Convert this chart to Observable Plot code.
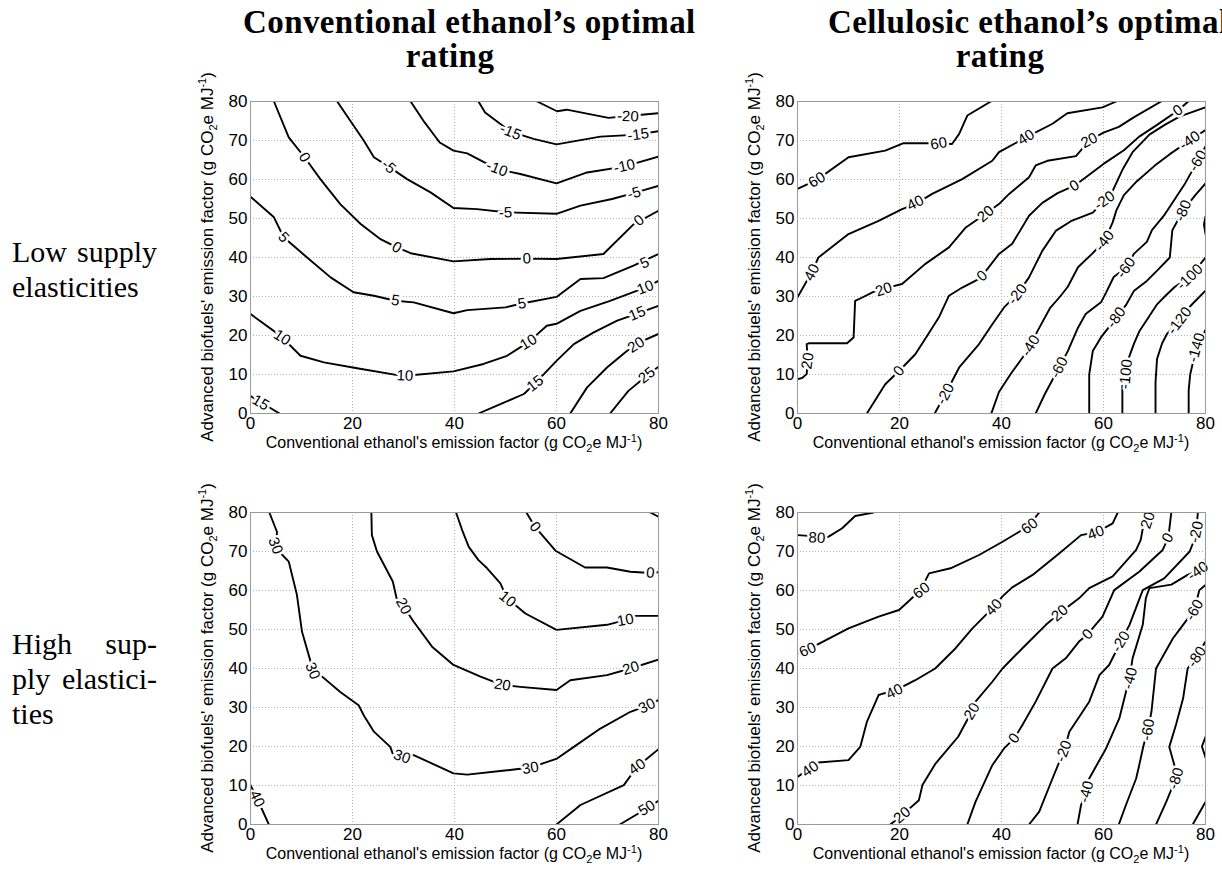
<!DOCTYPE html>
<html><head><meta charset="utf-8">
<script src="https://cdn.jsdelivr.net/npm/d3@7"></script>
<script src="https://cdn.jsdelivr.net/npm/@observablehq/plot@0.6"></script>
<style>
body{margin:0;background:#fff;}
#wrap{position:relative;width:1222px;height:874px;overflow:hidden;background:#fff;}
.abs{position:absolute;white-space:nowrap;}
.title{font-family:"Liberation Serif","Times New Roman",serif;font-weight:bold;font-size:33px;letter-spacing:0.4px;line-height:34px;color:#000;}
.row{font-family:"Liberation Serif","Times New Roman",serif;font-size:30px;line-height:35px;width:145px;text-align:justify;text-align-last:justify;color:#000;}
.axt{font-family:"Liberation Sans",Arial,sans-serif;font-size:16px;line-height:18px;color:#000;text-align:center;}
.axt sub,.axt sup{font-size:11px;line-height:0;}
</style></head><body><div id="wrap"></div>
<script>
// ---------- data ----------
const xTicks = [0, 20, 40, 60, 80];
const yTicks = [0, 10, 20, 30, 40, 50, 60, 70, 80];
const xGrid = [20, 40, 60];
const yGrid = [10, 20, 30, 40, 50, 60, 70];

const colTitles = ["Conventional ethanol\u2019s optimal", "Cellulosic ethanol\u2019s optimal"];
const rowTitles = [["Low supply", "elasticities"], ["High sup-", "ply elastici-", "ties"]];

// Low supply elasticities – conventional ethanol's optimal rating
const lowConvLines = [
  {level: -20, pts: [[56.2,80],[60.1,77.5],[62,77.9],[70.2,75.8],[74,76.3],[80,77]]},
  {level: -15, pts: [[44.7,80],[46,77.2],[47.7,75.5],[51,72.3],[55.5,70.4],[60,69],[68.6,71],[76,71.5],[80,72.4]]},
  {level: -10, pts: [[31.4,80],[34.1,74.7],[37.1,69.5],[39.8,67.4],[42.5,66.7],[45.4,64.7],[48.3,62.7],[52.9,61.4],[60,59],[66,61.8],[73.2,63.3],[80,65.9]]},
  {level: -5, pts: [[17,80],[22.2,70],[24.2,65.7],[27.1,63.3],[30.7,60.1],[35.3,56.7],[39.8,52.7],[44.4,52.4],[50,51.6],[60,51.2],[64.7,53.3],[70.9,55],[75.1,56.5],[80,58.4]]},
  {level: 0, pts: [[4.6,80],[7.5,70.8],[10.6,65.7],[13.7,60.1],[17.6,53.7],[21.6,48.6],[25.5,44.7],[28.7,42.6],[31.4,41.1],[39.8,39],[47,39.6],[54.2,39.7],[60,39.6],[69.2,40.9],[75.1,48.5],[80,52]]},
  {level: 5, pts: [[0,55.6],[4.6,50.3],[6.5,45.2],[11.1,40],[15.7,34.9],[20.2,31.1],[24.2,30.2],[28.4,28.9],[32,28.5],[39.8,25.7],[42.5,26.5],[50,27.2],[53.2,28.2],[60,29.9],[64.7,34.5],[69.2,34.7],[75.1,37.9],[80,40.9]]},
  {level: 10, pts: [[0,25.5],[5.9,19.9],[9.8,14.8],[14.4,13.1],[20.9,11.6],[29.4,9.7],[31.5,9.8],[39.8,10.8],[45.7,12.7],[50.3,14.8],[54.5,18.3],[58.1,22.5],[60,23],[64.7,26.3],[70.5,28.9],[77.4,32.3],[80,34]]},
  {level: 15, pts: [[44.7,0],[49,2.4],[53.6,5],[55.8,7.7],[60,13.5],[63.4,17.8],[67.3,20.8],[71.9,23.8],[75.8,25.6],[80,27.6]]},
  {level: 20, pts: [[62.7,0],[66,6.7],[69.9,11.8],[73.5,15.7],[75.8,18],[80,20.4]]},
  {level: 25, pts: [[70.5,0],[74.1,5.8],[77.7,9.7],[80,12]]},
  {level: 15, pts: [[0,4.5],[2.5,2.5],[5.7,0]]}
];
const lowConvLabels = [
  [-20,74,76.2],[-15,51,72.2],[-15,76,71.5],[-10,48.3,62.8],[-10,73.3,63.4],
  [-5,27.1,63.3],[-5,50,51.5],[-5,75.2,56.5],
  [0,10.6,65.7],[0,28.7,42.6],[0,54.2,39.7],[0,76.2,49.5],
  [5,6.5,45.2],[5,28.4,29],[5,53.2,28.2],[5,77.3,38.6],
  [10,6.2,19.5],[10,30.3,9.7],[10,54.5,18.3],[10,77.4,32.3],
  [15,2,2.8],[15,55.8,7.7],[15,75.8,25.6],[20,75.6,17.6],[25,77.7,9.8]
];

// Low supply elasticities – cellulosic ethanol's optimal rating
const lowCellLines = [
  {level: 60, pts: [[0,57.6],[3.8,59.9],[10,65.7],[17.2,67.4],[20.8,69.3],[26.4,69.3],[30.3,69.1],[31.7,71.7],[33.3,76.4],[37.9,80]]},
  {level: 40, pts: [[0,29.8],[2.8,36.2],[4.1,40],[10,46],[15.9,49.4],[20.5,52.4],[23.1,53.7],[26.4,56.3],[32.3,60.1],[38.2,64.8],[39.5,67],[44.8,70.8],[50,74.3],[52.9,77],[59.8,78.5],[62.5,80]]},
  {level: 20, pts: [[0,8.8],[0.9,9.1],[1.8,10.1],[2,13.5],[1.8,17.8],[2.2,18],[9.7,18],[11,19.5],[11.3,28.9],[12,29.3],[14.9,31.2],[16.9,32],[20.5,33.2],[25,38.3],[29.7,42.6],[33,47.7],[36.9,51.2],[39.5,53.7],[41.5,56.3],[45.4,60.6],[46.7,63.6],[49,64.8],[54.6,66],[57.2,70],[60,72],[63,73.5],[66,76],[71.3,80]]},
  {level: 0, pts: [[13.6,0],[17.2,7.5],[19.9,10.9],[23.1,15.2],[25.4,19.9],[27.7,24.6],[29.7,30.2],[32.3,32.3],[35.6,34.5],[36.2,35.3],[39.5,40.9],[42.1,43.5],[45.4,50.7],[48,54],[51,56.5],[54.3,58.4],[57,61],[60,64],[64,67.5],[67,71],[70.5,74],[74.6,77.7],[76.6,80]]},
  {level: -20, pts: [[26.9,0],[29,5],[31.7,11.8],[35.6,17.8],[38.2,22.9],[40.5,27.2],[43.1,30.6],[45.4,34.9],[48,41.7],[50.7,46.9],[53.6,49.3],[57.9,51.5],[60.2,54.6],[61.8,57.1],[63.8,62.7],[65.7,67],[69,71.5],[72,74],[75,76.2],[80,78.5]]},
  {level: -40, pts: [[38,0],[39.5,5.5],[42,10.5],[44.5,15],[45.7,17.4],[47,21],[49.5,27],[51.5,30],[53,32.5],[55,37.5],[57.8,41],[60.2,44.3],[61.8,49],[62.5,52],[64,56],[66.5,59.5],[70,63.5],[73,66.5],[76.9,70],[80,72.7]]},
  {level: -60, pts: [[46.7,0],[48.5,5],[51.3,11.8],[53,16],[55,22],[56.5,25.5],[59.5,28.5],[60.5,31],[62,35],[64.4,37.4],[66,41],[68.5,44],[69.5,47],[72,51],[74,55],[76,59],[78.5,64.8],[80,68.5]]},
  {level: -80, pts: [[57.2,0],[57.2,10],[57.9,16],[59.5,19.5],[62.5,24.6],[64.5,28],[66,31.5],[68.5,34],[70.8,37],[73,40],[73.5,47],[75.6,52],[78,56],[80,59]]},
  {level: -100, pts: [[63.7,0],[63.7,8],[64.4,10.1],[64.6,13],[66,18],[67,21],[69,25],[70.5,28],[72,30],[74,32.5],[76.9,35],[80,40]]},
  {level: -100, pts: [[80,50.5],[79.7,48.5],[80,46]]},
  {level: -120, pts: [[70.2,0],[70.2,8],[70.5,14],[71.5,18],[72.5,20.5],[74.9,23.8],[77,27.5],[80,31.5]]},
  {level: -140, pts: [[76.7,0],[76.7,6],[77,10],[78.2,16.9],[80,21.4]]}
];
const lowCellLabels = [
  [60,3.8,59.9],[60,27.7,69.2],
  [40,2.8,36.2],[40,23.1,54],[40,44.8,70.8],
  [20,2,13.5],[20,16.9,31.8],[20,36.9,51.2],[20,57.2,70],
  [0,19.9,10.9],[0,36.2,35.3],[0,54.3,58.4],[0,74.6,77.7],
  [-20,29,5],[-20,43.1,30.6],[-20,60.2,54.6],
  [-40,45.7,17.4],[-40,60.2,44.3],[-40,76.9,70],
  [-60,51.3,11.8],[-60,64.4,37.4],[-60,78.5,64.8],
  [-80,62.5,24.6],[-80,75.6,52],
  [-100,64.4,10.1],[-100,76.9,35],
  [-120,74.9,23.8],[-140,78.2,16.9]
];

// High supply elasticities – conventional ethanol's optimal rating
const highConvLines = [
  {level: 30, pts: [[3.7,80],[5.2,75],[5,71.6],[5.6,70],[7.5,67.4],[9.1,58.9],[10.1,49.4],[11.8,41.7],[12.4,39.6],[13.7,38.3],[17.6,34],[21.2,30.6],[22.2,28],[24.2,23.8],[27.4,19.9],[28,17.8],[29.7,17.4],[32,17.8],[39.8,13.1],[42.5,12.8],[50.3,13.9],[54.9,14.6],[60.1,16.9],[63.4,19.9],[68.6,24.6],[74.5,28.9],[77.7,30.4],[80,31.9]]},
  {level: 20, pts: [[23.7,80],[23.8,74.2],[24.8,70],[27.9,62.3],[28.8,57.1],[30,55.9],[32,52],[35.6,45.6],[39.8,40.9],[45.1,37.9],[49.3,35.8],[52.9,35.3],[60,34.5],[62.7,37],[69.9,38.3],[74.5,40],[80,42.3]]},
  {level: 10, pts: [[40.3,80],[41.5,75.5],[42.8,71.2],[44.7,67.8],[46.4,65.7],[49,61.8],[50.3,58],[53.9,54.1],[60,49.9],[69.9,51.2],[73.5,52.4],[75.1,53.5],[80,53.5]]},
  {level: 0, pts: [[54.1,80],[55.8,76.3],[59.8,70.2],[65.6,65.9],[69.9,65.9],[74.5,64.8],[78.4,64.5],[80,64.7]]},
  {level: -10, pts: [[78.4,80],[80,78.9]]},
  {level: 40, pts: [[60,0],[64.7,5],[73.2,10.1],[75.8,14.8],[80,19.3]]},
  {level: 50, pts: [[72.4,0],[77.7,4.1],[80,6.1]]},
  {level: 40, pts: [[0,10.1],[1,7.5],[3.6,0]]}
];
const highConvLabels = [
  [30,4.9,71.5],[30,12.2,39.4],[30,29.7,17.4],[30,54.9,14.5],[30,77.7,30.4],
  [20,30,56],[20,49.4,35.8],[20,74.6,40.1],
  [10,50.4,57.8],[10,73.5,52.4],
  [0,55.8,76.3],[0,78.4,64.5],
  [40,75.8,14.8],[40,1.3,6.6],[50,77.7,4.2]
];

// High supply elasticities – cellulosic ethanol's optimal rating
const highCellLines = [
  {level: 80, pts: [[0,74.2],[2.2,74],[3.8,73.5],[6.1,73.8],[8.7,75.9],[11.3,79.1],[14.9,80]]},
  {level: 60, pts: [[0,43.9],[1.8,44.7],[10,50.3],[15.9,53.3],[19.9,55],[22,57.5],[24.1,60.1],[25.8,64.4],[30,65.7],[35.6,69.1],[40.2,72.5],[43.4,75],[45.4,76.7],[47.4,80]]},
  {level: 40, pts: [[0,12.2],[2.5,14.4],[4.1,15.9],[10,16.5],[12.3,19.9],[13.6,26.3],[15.9,33.2],[16.9,33.6],[18.9,34.2],[23.1,37],[27,40],[31,45.2],[34.3,50.3],[38.2,55.4],[40.2,58.5],[42.1,60.8],[46.1,64],[51.3,69.5],[55.6,74.2],[57.2,74.6],[58.5,74.8],[61.8,77.2],[62.8,80]]},
  {level: 20, pts: [[18.2,0],[20.5,2.4],[23.8,6.2],[24.5,10.1],[27.1,15.7],[29,18.6],[31.5,22.5],[34.3,29.3],[34.9,31.5],[38.2,36.6],[40.2,40],[44.1,45.2],[48.7,51.2],[51.3,54.1],[55.2,58],[57.2,60.6],[61.8,63.6],[66.4,70.4],[67.3,73],[67.7,75.9],[68.7,78],[69.1,80]]},
  {level: 0, pts: [[33.3,0],[34.9,5.8],[38.2,15.2],[40.5,19.5],[42.5,22.1],[44.1,25.5],[46.7,31.5],[50,40],[52.6,42.6],[55.2,46.9],[56.9,48.8],[59.8,53.3],[62.1,60.1],[67,64.8],[71.6,70.4],[72.7,73.5],[73.3,80]]},
  {level: -20, pts: [[45.4,0],[47.4,3.3],[50,11.8],[51.6,16.9],[52.3,19],[53.3,23.8],[57.2,31.5],[59.2,38.3],[61.1,40.9],[63.4,46.9],[65.1,51.2],[67.7,60.1],[71.9,63.1],[76.9,70],[78.1,74],[78.5,80]]},
  {level: -40, pts: [[54.9,0],[55.6,5],[56.6,8.4],[57.2,11.8],[60.5,19.5],[63.1,27.2],[64.4,34],[65.1,37.5],[65.7,42.6],[67.7,51.2],[68.3,58],[69,60.6],[73.3,61.5],[76.5,64],[78.5,65],[80,67.8]]},
  {level: -60, pts: [[63,0],[64.4,5],[66.4,11.8],[67,15.2],[67.8,20],[68.7,24.2],[69.4,28.9],[70.3,40],[73.6,47.7],[75.6,51.2],[77.8,55],[78.8,60.1],[80,61.4]]},
  {level: -80, pts: [[70.3,0],[72.3,5.8],[74.2,11.8],[73.9,15.2],[72.9,19.9],[74.2,25.5],[75.6,32.3],[76.5,40],[78.2,43],[80,46.9]]},
  {level: -100, pts: [[77.5,0],[78.8,3],[80,5.8]]},
  {level: -100, pts: [[80,22.5],[79.3,20],[80,17.2]]}
];
const highCellLabels = [
  [80,3.8,73.5],
  [60,2,44.8],[60,24.3,60],[60,45.5,76.5],
  [40,2.5,14.2],[40,19,34.1],[40,38.5,55.7],[40,58.5,74.8],
  [20,20.5,2.4],[20,34.2,29],[20,51.4,54.2],[20,68.7,78],
  [0,42.5,22.1],[0,56.9,48.8],[0,72.6,73.5],
  [-20,52.2,18.8],[-20,63.4,46.9],[-20,78.2,75],
  [-40,56.6,8.4],[-40,65.2,37.5],[-40,78.5,65],
  [-60,68.7,24.3],[-60,77.8,55],
  [-80,74.2,11.8],[-80,78.3,43]
];

// ---------- layout ----------
const FW = 408, FH = 312;             // frame size in px
const mL = 50, mR = 24, mT = 12, mB = 30;
const panels = [
  {lines: lowConvLines,  labels: lowConvLabels,  left: 250, top: 101},
  {lines: lowCellLines,  labels: lowCellLabels,  left: 797, top: 101},
  {lines: highConvLines, labels: highConvLabels, left: 250, top: 512},
  {lines: highCellLines, labels: highCellLabels, left: 797, top: 512}
];

const wrap = document.getElementById("wrap");
const kx = FW / 80, ky = FH / 80;

function labelAngle(lines, lev, x, y) {
  let best = null, bd = Infinity;
  lines.forEach(L => {
    if (L.level !== lev) return;
    const p = L.pts;
    for (let i = 0; i < p.length - 1; i++) {
      const ax = p[i][0]*kx, ay = p[i][1]*ky, bx = p[i+1][0]*kx, by = p[i+1][1]*ky;
      const px = x*kx, py = y*ky;
      const dx = bx-ax, dy = by-ay, l2 = dx*dx+dy*dy || 1;
      let t = ((px-ax)*dx + (py-ay)*dy) / l2; t = Math.max(0, Math.min(1, t));
      const qx = ax+t*dx - px, qy = ay+t*dy - py, d = qx*qx+qy*qy;
      if (d < bd) { bd = d; best = {p, i}; }
    }
  });
  if (!best) return 0;
  const {p, i} = best;
  const a = p[Math.max(0, i-1)], b = p[Math.min(p.length-1, i+2)];
  let ang = -Math.atan2((b[1]-a[1])*ky, (b[0]-a[0])*kx) * 180 / Math.PI;
  while (ang > 90) ang -= 180;
  while (ang <= -90) ang += 180;
  return ang;
}

panels.forEach((P, pi) => {
  const rows = [];
  P.lines.forEach((L, li) => L.pts.forEach(([x, y]) => rows.push({id: li, level: L.level, x, y})));
  const labs = P.labels.map(([lev, x, y]) => ({t: String(lev), x, y, r: labelAngle(P.lines, lev, x, y)}));
  const chart = Plot.plot({
    width: FW + mL + mR, height: FH + mT + mB,
    marginLeft: mL, marginRight: mR, marginTop: mT, marginBottom: mB,
    style: {fontFamily: '"Liberation Sans", Arial, sans-serif', fontSize: "17px", color: "#000", background: "transparent", overflow: "visible"},
    x: {domain: [0, 80], ticks: xTicks, tickSize: 0, tickPadding: 3, label: null},
    y: {domain: [0, 80], ticks: yTicks, tickSize: 0, tickPadding: 3, label: null},
    marks: [
      Plot.gridX(xGrid, {stroke: "#b4b4b4", strokeOpacity: 1, strokeDasharray: "1,2"}),
      Plot.gridY(yGrid, {stroke: "#b4b4b4", strokeOpacity: 1, strokeDasharray: "1,2"}),
      Plot.line(rows, {x: "x", y: "y", z: "id", stroke: "#000", strokeWidth: 1.9, clip: true}),
      Plot.text(labs, {x: "x", y: "y", text: "t", rotate: "r", fontSize: 15, fill: "#000", stroke: "#fff", strokeWidth: 5}),
      Plot.frame({stroke: "#9a9a9a"})
    ]
  });
  chart.style.position = "absolute";
  chart.style.left = (P.left - mL) + "px";
  chart.style.top = (P.top - mT) + "px";
  wrap.appendChild(chart);

  // axis titles
  const cx = P.left + FW / 2, cy = P.top + FH / 2;
  const xt = document.createElement("div");
  xt.className = "abs axt";
  xt.style.left = (cx - 250) + "px"; xt.style.width = "500px";
  xt.style.top = (P.top + FH + 21) + "px";
  xt.innerHTML = "Conventional ethanol's emission factor (g CO<sub>2</sub>e MJ<sup>-1</sup>)";
  wrap.appendChild(xt);
  const yt = document.createElement("div");
  yt.className = "abs axt";
  yt.style.width = "500px";
  yt.style.fontSize = "17px";
  yt.style.left = (P.left - 42 - 250) + "px";
  yt.style.top = (cy - 9) + "px";
  yt.style.transform = "rotate(-90deg)";
  yt.innerHTML = "Advanced biofuels' emission factor (g CO<sub>2</sub>e MJ<sup>-1</sup>)";
  wrap.appendChild(yt);
});

// column titles
[[243, 450], [828, 1000]].forEach(([l1, c2], i) => {
  const t1 = document.createElement("div");
  t1.className = "abs title"; t1.style.left = l1 + "px"; t1.style.top = "5px";
  t1.textContent = colTitles[i];
  wrap.appendChild(t1);
  const t2 = document.createElement("div");
  t2.className = "abs title"; t2.style.left = (c2 - 100) + "px"; t2.style.width = "200px";
  t2.style.textAlign = "center"; t2.style.top = "39px";
  t2.textContent = "rating";
  wrap.appendChild(t2);
});

// row titles
[[234, rowTitles[0]], [626, rowTitles[1]]].forEach(([top, lines]) => {
  lines.forEach((s, j) => {
    const d = document.createElement("div");
    d.className = "abs row";
    d.style.left = "12px"; d.style.top = (top + 35 * j) + "px";
    d.style.whiteSpace = "normal";
    if (j === lines.length - 1 && lines.length === 3) { d.style.textAlignLast = "left"; }
    d.textContent = s;
    wrap.appendChild(d);
  });
});
</script></body></html>
